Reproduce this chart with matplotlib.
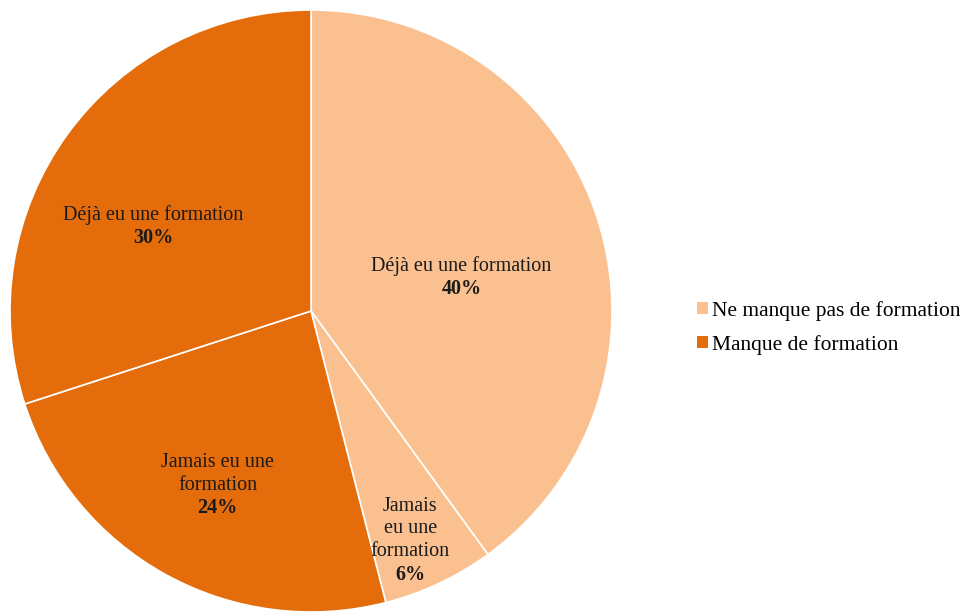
import matplotlib.pyplot as plt
from matplotlib.patches import Patch

plt.rcParams['font.family'] = ['Liberation Serif', 'DejaVu Serif']

# slices clockwise from the top
slice_names = ["Déjà eu une formation", "Jamais\neu une\nformation",
               "Jamais eu une\nformation", "Déjà eu une formation"]
slice_values = [40, 6, 24, 30]
slice_groups = [0, 0, 1, 1]

group_names = ["Ne manque pas de formation", "Manque de formation"]
group_colors = ["#FAC090", "#E46C0A"]

# label block centres (data coords, pie radius = 1)
label_pos = [(0.50, 0.11), (0.33, -0.762), (-0.31, -0.58), (-0.525, 0.28)]
LINE_H = 22.8 / 301

fig = plt.figure(figsize=(9.71, 6.14), dpi=100)
ax = fig.add_axes([10 / 971, 2 / 614, 602 / 971, 602 / 614])

colors = [group_colors[g] for g in slice_groups]
ax.pie(slice_values, colors=colors, startangle=90, counterclock=False,
       radius=1, wedgeprops=dict(edgecolor="white", linewidth=1.2))
ax.set_xlim(-1, 1)
ax.set_ylim(-1, 1)
ax.set_aspect("equal")

for name, val, (x, y) in zip(slice_names, slice_values, label_pos):
    lines = name.split("\n") + [f"{val}%"]
    n = len(lines)
    for i, line in enumerate(lines):
        yy = y + (n / 2 - i - 0.5) * LINE_H
        ax.text(x, yy, line, ha="center", va="center", fontsize=14.5,
                color="#1a1a1a",
                fontweight="bold" if i == n - 1 else "normal")

handles = [Patch(facecolor=c, edgecolor="none") for c in group_colors]
fig.legend(handles, group_names, loc="center left",
           bbox_to_anchor=(697 / 971, 1 - 328 / 614), frameon=False,
           fontsize=15.5, handlelength=0.5, handleheight=0.5,
           handletextpad=0.2, labelspacing=0.65, borderpad=0, borderaxespad=0)

fig.savefig("out.png", dpi=100)
